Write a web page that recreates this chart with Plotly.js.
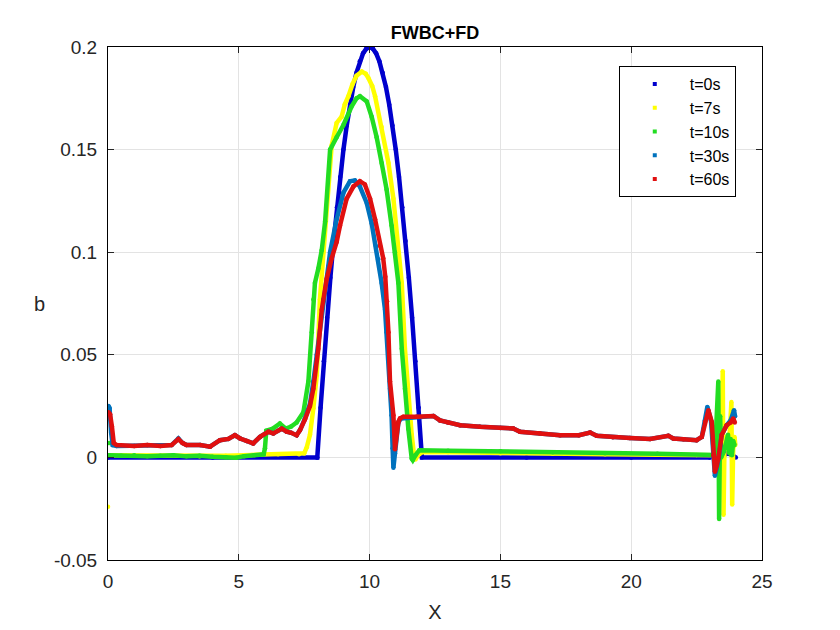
<!DOCTYPE html>
<html>
<head>
<meta charset="utf-8">
<script src="https://cdn.plot.ly/plotly-3.0.1.min.js"></script>
<style>html,body{margin:0;padding:0;background:#fff;}#chart{width:840px;height:630px;}</style>
</head>
<body>
<div id="chart"></div>
<script>
// ---- data ----
var seriesNames = ["t=0s", "t=7s", "t=10s", "t=30s", "t=60s"];

var x_t0 = [0, 4, 7.99, 8.0, 8.125, 8.25, 8.375, 8.5, 8.625, 8.75, 8.875, 9.0, 9.125, 9.25, 9.375, 9.5, 9.625, 9.75, 9.875, 10.0,
  10.125, 10.25, 10.375, 10.5, 10.625, 10.75, 10.875, 11.0, 11.125, 11.25, 11.375, 11.5, 11.625, 11.75, 11.875, 12.0,
  16, 20, 23.0, 23.2, 23.3, 23.4, 23.5, 23.7, 23.9, 24.0];
var b_t0 = [0, 0, 0, 0, 0.0242, 0.0469, 0.068, 0.0875, 0.1055, 0.1219, 0.1367, 0.150, 0.1617, 0.1719, 0.1805, 0.1875, 0.1930, 0.1969, 0.1992, 0.200,
  0.1992, 0.1969, 0.1930, 0.1875, 0.1805, 0.1719, 0.1617, 0.150, 0.1367, 0.1219, 0.1055, 0.0875, 0.068, 0.0469, 0.0242, 0,
  0, 0, 0, 0.001, -0.003, 0.002, 0.001, 0.002, 0.001, 0];

var x_t7 = [0, null, 0.02, 0.5, 1.5, 2.5, 3.5, 4.5, 5.5, 6.5, 7.3, 7.5, 7.6, 7.72, 7.85, 7.98, 8.1, 8.23, 8.4, 8.55, 8.74, 8.93, 9.05, 9.19, 9.35, 9.5, 9.7, 9.85, 9.95,
  10.1, 10.21, 10.46, 10.72, 10.91, 11.1, 11.23, 11.35, 11.48, 11.61, 11.7, 11.75, 11.85, 12.0, 13, 15, 17, 19, 21, 22.5, 23.3,
  23.45, 23.5, 23.53, 23.57, 23.65, 23.75, 23.83, 23.86, 23.9, 23.95, 23.98];
var b_t7 = [-0.024, null, 0.001, 0.001, 0.0008, 0.001, 0.0005, 0.0008, 0.0012, 0.0015, 0.0015, 0.002, 0.005, 0.011, 0.024, 0.040, 0.077, 0.100, 0.130, 0.152, 0.163, 0.166, 0.172, 0.176, 0.182, 0.186, 0.188, 0.187, 0.185,
  0.181, 0.176, 0.161, 0.1435, 0.126, 0.100, 0.085, 0.053, 0.029, 0.011, 0.001, -0.001, 0.001, 0.0025, 0.0025, 0.002, 0.0018, 0.0015, 0.0013, 0.0012, 0.001,
  0.005, 0.042, -0.028, 0.010, 0.004, 0.008, 0.027, -0.023, 0.005, 0.010, 0.006];

var x_t10 = [0.05, null, 0.02, 0.5, 1.0, 1.5, 2.0, 2.5, 3.0, 3.5, 4.0, 4.5, 4.9, 5.2, 5.6, 5.95, 6.0, 6.05, 6.3, 6.57, 6.8, 7.0, 7.21, 7.47, 7.66, 7.79, 7.85, 7.91, 8.04, 8.17, 8.3, 8.49,
  8.74, 9.0, 9.31, 9.5, 9.63, 9.89, 10.08, 10.27, 10.46, 10.65, 10.84, 10.97, 11.1, 11.23, 11.35, 11.48, 11.61, 11.65, 11.75, 11.9,
  13, 15, 17, 19, 21, 23.2, 23.33, 23.36, 23.4, 23.44, 23.55, 23.7, 23.75, 23.8, 23.85, 23.9, 23.95];
var b_t10 = [0.007, null, 0.001, 0.0008, 0.001, 0.0005, 0.0008, 0.001, 0.0005, 0.0008, 0.0003, 0.0001, -0.0002, 0.0006, 0.001, 0.0015, 0.0045, 0.013, 0.014, 0.0165, 0.014, 0.015, 0.017, 0.022, 0.037, 0.061, 0.077, 0.085, 0.092, 0.101, 0.115, 0.150,
  0.156, 0.162, 0.171, 0.175, 0.176, 0.1735, 0.166, 0.156, 0.1435, 0.1306, 0.113, 0.100, 0.085, 0.053, 0.0335, 0.014, -0.0005, -0.0013, 0.001, 0.0035,
  0.0033, 0.003, 0.0025, 0.002, 0.0018, 0.0012, 0.037, -0.030, 0.020, 0.000, 0.003, 0.011, 0.002, 0.009, 0.001, 0.008, 0.006];

var x_t30 = [0.02, 0.06, 0.12, 0.18, 0.33, 1.0, 1.5, 2.0, 2.43, 2.69, 2.85, 3.0, 3.52, 3.9, 4.28, 4.6, 4.85, 5.05, 5.3, 5.55, 5.81, 6.13, 6.32, 6.64, 6.83, 7.0, 7.21, 7.34, 7.53, 7.72,
  7.85, 7.98, 8.23, 8.42, 8.49, 8.74, 9.0, 9.25, 9.44, 9.63, 9.89, 10.08, 10.24, 10.33, 10.46, 10.59, 10.65, 10.72, 10.78, 10.84, 10.88, 10.91, 10.97, 11.03, 11.1, 11.2,
  11.8, 12.44, 12.69, 13.0, 13.46, 14.22, 15.0, 15.49, 15.75, 16.5, 17.28, 18.0, 18.43, 18.68, 19.3, 19.95, 20.72, 21.42, 21.61, 22.0, 22.5, 22.7, 22.82, 22.91, 23.05,
  23.14, 23.2, 23.27, 23.35, 23.46, 23.65, 23.8, 23.93, 23.97];
var b_t30 = [0.025, 0.024, 0.012, 0.006, 0.0055, 0.0055, 0.006, 0.0055, 0.006, 0.0092, 0.007, 0.006, 0.006, 0.0052, 0.0084, 0.009, 0.0108, 0.0092, 0.008, 0.0068, 0.010, 0.0125, 0.0117, 0.014, 0.0125, 0.012, 0.0108, 0.0133, 0.019, 0.026,
  0.037, 0.050, 0.077, 0.093, 0.100, 0.116, 0.129, 0.1346, 0.135, 0.132, 0.124, 0.114, 0.103, 0.0966, 0.085, 0.072, 0.061, 0.048, 0.0335, 0.0205, 0.0044, -0.005, 0.002, 0.012, 0.017, 0.019,
  0.0198, 0.0202, 0.018, 0.017, 0.0157, 0.0149, 0.0143, 0.0141, 0.0125, 0.0118, 0.0108, 0.0108, 0.0121, 0.0105, 0.0098, 0.0095, 0.009, 0.0105, 0.0092, 0.0088, 0.0084, 0.010, 0.018, 0.0246, 0.018,
  0.000, -0.009, -0.005, 0.000, 0.011, 0.0157, 0.018, 0.023, 0.020];

var x_t60 = [0.02, 0.08, 0.15, 0.22, 0.33, 1.0, 1.5, 2.0, 2.43, 2.69, 2.85, 3.0, 3.52, 3.9, 4.28, 4.6, 4.85, 5.05, 5.3, 5.55, 5.81, 6.13, 6.32, 6.64, 6.83, 7.0, 7.21, 7.34, 7.53, 7.72,
  7.85, 8.04, 8.17, 8.36, 8.55, 8.74, 8.87, 9.12, 9.38, 9.63, 9.82, 10.02, 10.21, 10.4, 10.52, 10.6, 10.67, 10.72, 10.78, 10.91, 10.97, 11.03, 11.1, 11.16, 11.29,
  11.8, 12.44, 12.69, 13.0, 13.46, 14.22, 15.0, 15.49, 15.75, 16.5, 17.28, 18.0, 18.43, 18.68, 19.3, 19.95, 20.72, 21.42, 21.61, 22.0, 22.5, 22.7, 22.82, 22.95, 23.08,
  23.14, 23.2, 23.27, 23.33, 23.46, 23.65, 23.8, 23.9, 23.96];
var b_t60 = [0.022, 0.021, 0.015, 0.007, 0.006, 0.0055, 0.006, 0.0055, 0.006, 0.0089, 0.007, 0.006, 0.006, 0.0052, 0.0084, 0.009, 0.0108, 0.0092, 0.008, 0.0068, 0.010, 0.0125, 0.0117, 0.014, 0.0125, 0.012, 0.0108, 0.0133, 0.0185, 0.025,
  0.0335, 0.053, 0.072, 0.087, 0.097, 0.105, 0.113, 0.126, 0.132, 0.1346, 0.133, 0.126, 0.116, 0.103, 0.097, 0.088, 0.076, 0.061, 0.037, 0.0205, 0.004, 0.011, 0.0173, 0.019, 0.0198,
  0.0198, 0.0202, 0.018, 0.017, 0.0157, 0.0149, 0.0143, 0.0141, 0.0125, 0.0118, 0.0108, 0.0108, 0.0121, 0.0105, 0.0098, 0.0095, 0.009, 0.0105, 0.0092, 0.0088, 0.0084, 0.010, 0.0173, 0.023, 0.0173,
  0.001, -0.007, -0.004, -0.0005, 0.011, 0.0157, 0.017, 0.019, 0.017];

var xTicks = [0, 5, 10, 15, 20, 25];
var yTicks = [-0.05, 0, 0.05, 0.1, 0.15, 0.2];
var yTickText = ["-0.05", "0", "0.05", "0.1", "0.15", "0.2"];

// ---- styling ----
var colors = ["#0000CD", "#FFFF00", "#22DD22", "#0072BD", "#E01010"];
var xs = [x_t0, x_t7, x_t10, x_t30, x_t60];
var bs = [b_t0, b_t7, b_t10, b_t30, b_t60];
var FONT = "Liberation Sans, Arial, sans-serif";

var traces = [];
for (var i = 0; i < xs.length; i++) {
  traces.push({
    type: "scatter", mode: "lines+markers", x: xs[i], y: bs[i],
    line: {color: colors[i], width: 4.5}, marker: {color: colors[i], size: 4.5},
    connectgaps: false, showlegend: false, hoverinfo: "skip"
  });
}
for (var j = 0; j < seriesNames.length; j++) {
  traces.push({
    type: "scatter", mode: "markers", x: [null], y: [null], name: seriesNames[j],
    marker: {color: colors[j], size: 4, symbol: "square"}, showlegend: true
  });
}

var axisCommon = {
  showline: true, linecolor: "#000", linewidth: 1, mirror: "ticks",
  ticks: "inside", ticklen: 6, tickcolor: "#262626",
  showgrid: true, gridcolor: "#e3e3e3", gridwidth: 1, zeroline: false,
  tickfont: {family: FONT, size: 19, color: "#262626"}
};

var layout = {
  width: 840, height: 630,
  paper_bgcolor: "#fff", plot_bgcolor: "#fff",
  margin: {l: 108, r: 78, t: 47, b: 70},
  font: {family: FONT, color: "#262626"},
  title: {text: "<b>FWBC+FD</b>", font: {family: FONT, size: 18, color: "#000"},
          x: 0.5, xref: "paper", y: 1 - 33 / 630, yref: "container", yanchor: "middle"},
  xaxis: Object.assign({}, axisCommon, {
    range: [0, 25], tickvals: xTicks, ticktext: xTicks.map(String), ticklabelstandoff: 4,
    title: {text: "X", font: {family: FONT, size: 20, color: "#262626"}, standoff: 14}
  }),
  yaxis: Object.assign({}, axisCommon, {
    range: [-0.05, 0.2], tickvals: yTicks, ticktext: yTickText, ticklabelstandoff: 6
  }),
  annotations: [{
    text: "b", xref: "paper", yref: "paper", x: -0.104, y: 0.5, showarrow: false,
    font: {family: FONT, size: 20, color: "#262626"}, xanchor: "center", yanchor: "middle"
  }],
  legend: {
    x: 0.781, y: 0.963, xanchor: "left", yanchor: "top",
    bgcolor: "#fff", bordercolor: "#000", borderwidth: 1,
    font: {family: FONT, size: 16, color: "#000"}, itemwidth: 60, tracegroupgap: 0
  },
  showlegend: true
};

Plotly.newPlot("chart", traces, layout, {staticPlot: true});
</script>
</body>
</html>
